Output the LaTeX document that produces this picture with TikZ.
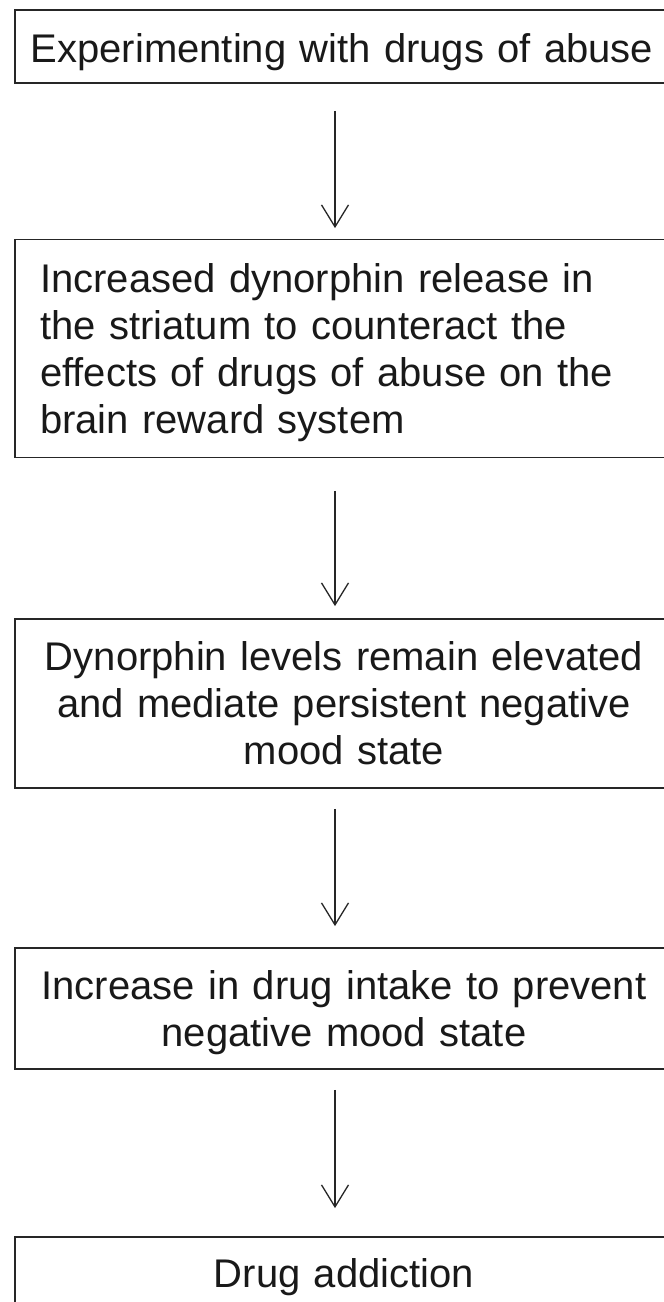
\documentclass[tikz,border=0pt]{standalone}
\usepackage{fontspec}
\setmainfont{Liberation Sans}
\usetikzlibrary{arrows.meta}
\begin{document}
\begin{tikzpicture}[x=1pt,y=-1pt,
  box/.style={draw=black!85, line width=1.8pt, rectangle, minimum width=658pt, inner sep=0pt},
  txt/.style={anchor=base, text width=640pt, align=center, inner sep=0pt, font=\fontsize{40pt}{47pt}\selectfont, text=black!90},
  txtl/.style={anchor=base west, text width=608pt, align=left, inner sep=0pt, font=\fontsize{40pt}{47pt}\selectfont, text=black!90},
  arr/.style={-{Straight Barb[length=22pt,width=27pt,line width=1.3pt]}, line width=1.3pt, draw=black!85}]
\useasboundingbox (0,0) rectangle (664,1302);
\coordinate (ax) at (335,0);
% boxes
\node[box, minimum height=73pt]  (b1) at (344,46.5) {};
\node[box, minimum height=218pt] (b2) at (344,348.5) {};
\node[box, minimum height=169pt] (b3) at (344,703.5) {};
\node[box, minimum height=121pt] (b4) at (344,1008.5) {};
\node[box, minimum height=80pt]  (b5) at (344,1277) {};
% texts
\node[txt]  (t1) at (342,62) {Experimenting with drugs of abuse};
\node[txtl] (t2) at (40,292) {Increased dynorphin release in\\the striatum to counteract the\\effects of drugs of abuse on the\\brain reward system};
\node[txt]  (t3) at (344,670.5) {Dynorphin levels remain elevated\\and mediate persistent negative\\mood state};
\node[txt]  (t4) at (344,999) {Increase in drug intake to prevent\\negative mood state};
\node[txt]  (t5) at (344,1287) {Drug addiction};
% arrows
\draw[arr, shorten <=27pt, shorten >=10.5pt] (b1.south -| ax) -- (b2.north -| ax);
\draw[arr, shorten <=32.5pt, shorten >=12pt] (b2.south -| ax) -- (b3.north -| ax);
\draw[arr, shorten <=20pt, shorten >=21pt] (b3.south -| ax) -- (b4.north -| ax);
\draw[arr, shorten <=20pt, shorten >=28pt] (b4.south -| ax) -- (b5.north -| ax);
\end{tikzpicture}
\end{document}
